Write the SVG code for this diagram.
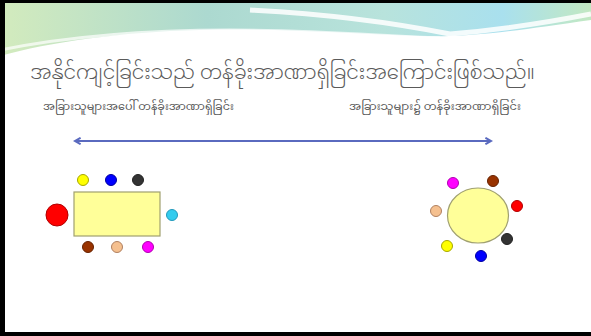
<svg xmlns="http://www.w3.org/2000/svg" width="591" height="336" viewBox="0 0 591 336">
<style>
.t{font-family:"Noto Sans Myanmar","Padauk","Myanmar Text","Noto Sans",sans-serif;fill:#5a5a5a}
.yel{fill:#ffff00;stroke:#a6a600}
.blu{fill:#0000ff;stroke:#0000a0}
.drk{fill:#333333;stroke:#222}
.cya{fill:#33ccee;stroke:#2299bb}
.brn{fill:#993300;stroke:#662200}
.pch{fill:#f5c08f;stroke:#b08060}
.mag{fill:#ff00ff;stroke:#b000b0}
.red{fill:#ff0000;stroke:#b00000}
.conn{stroke:#5a6abf;stroke-width:2;fill:none}
</style>
<defs>
<linearGradient id="hdr" x1="0" y1="0" x2="1" y2="0">
<stop offset="0" stop-color="#d3ebbd"/>
<stop offset="0.35" stop-color="#acd9d0"/>
<stop offset="0.65" stop-color="#b8e3dc"/>
<stop offset="0.85" stop-color="#a9e0ee"/>
<stop offset="1" stop-color="#c2e8c2"/>
</linearGradient>
<marker id="ah" viewBox="0 0 10 10" refX="8" refY="5" markerWidth="4" markerHeight="4" orient="auto-start-reverse">
<path d="M1,1 L8,5 L1,9" fill="none" stroke="#5a6abf" stroke-width="2.5"/>
</marker>
</defs>
<rect width="591" height="336" fill="#ffffff"/>
<g id="header">
<path d="M0,3 H591 V20 C520,30 470,38 420,36 C340,33 280,28 200,30 C120,32 50,42 0,56 Z" fill="url(#hdr)"/>
<path d="M250,10 C330,14 390,22 450,34 C500,30 550,22 591,14" fill="none" stroke="#ffffff" stroke-width="5" opacity="0.85"/>
<path d="M0,50 C60,38 140,30 230,30 C320,30 380,36 440,38" fill="none" stroke="#ffffff" stroke-width="3" opacity="0.7"/>
</g>
<g id="title"><text class="t" x="30" y="78.5" font-size="19.7" font-weight="300">အနိုင်ကျင့်ခြင်းသည် တန်ခိုးအာဏာရှိခြင်းအကြောင်းဖြစ်သည်။</text></g>
<g id="label-left"><text class="t" x="43" y="109.5" font-size="11.2" fill="#444">အခြားသူများအပေါ် တန်ခိုးအာဏာရှိခြင်း</text></g>
<g id="label-right"><text class="t" x="349" y="109.5" font-size="11.4" fill="#444">အခြားသူများ၌ တန်ခိုးအာဏာရှိခြင်း</text></g>
<g id="connectors">
<line class="conn" x1="75" y1="141" x2="491" y2="141" marker-start="url(#ah)" marker-end="url(#ah)"/>
</g>
<g id="left-table">
<rect x="74" y="192" width="86" height="44" fill="#ffff99" stroke="#a0a070" stroke-width="1.2"/>
<circle class="red" cx="57" cy="215" r="11"/>
<circle class="yel" cx="83" cy="180" r="5.5"/>
<circle class="blu" cx="111" cy="180" r="5.5"/>
<circle class="drk" cx="138" cy="180" r="5.5"/>
<circle class="cya" cx="172" cy="215" r="5.5"/>
<circle class="brn" cx="88" cy="247" r="5.5"/>
<circle class="pch" cx="117" cy="247" r="5.5"/>
<circle class="mag" cx="148" cy="247" r="5.5"/>
</g>
<g id="right-table">
<ellipse cx="478" cy="215.5" rx="30.5" ry="27.5" fill="#ffff99" stroke="#a0a070" stroke-width="1.2"/>
<circle class="mag" cx="453" cy="183" r="5.5"/>
<circle class="brn" cx="493" cy="181" r="5.5"/>
<circle class="red" cx="517" cy="206" r="5.5"/>
<circle class="drk" cx="507" cy="239" r="5.5"/>
<circle class="blu" cx="481" cy="256" r="5.5"/>
<circle class="yel" cx="447" cy="246" r="5.5"/>
<circle class="pch" cx="436" cy="211" r="5.5"/>
</g>
<g id="frame">
<rect x="0" y="0" width="591" height="3" fill="#000"/>
<rect x="0" y="0" width="5" height="336" fill="#000"/>
<rect x="0" y="332" width="591" height="4" fill="#000"/>
</g>
</svg>
